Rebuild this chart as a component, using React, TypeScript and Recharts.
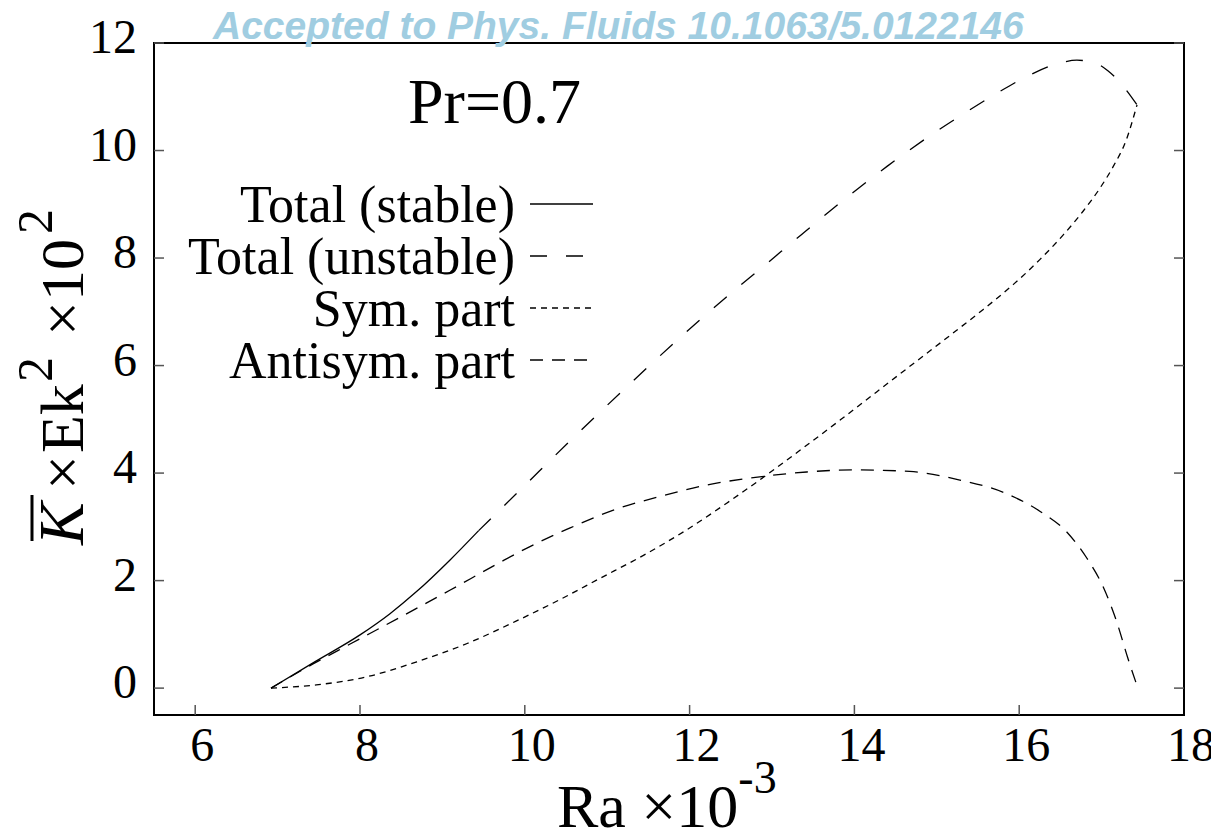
import React from 'react';
import { LineChart, Line, XAxis, YAxis } from 'recharts';

const W = 1211;
const H = 823;
const SERIF = '"Liberation Serif", "Times New Roman", Times, serif';
const SANS = '"Liberation Sans", Arial, Helvetica, sans-serif';

// Ra x 10^-3 and mean kinetic energy (x Ek^2 x 10^2) along each branch, Pr = 0.7
const stableRa = [6.92, 7.43, 8.0, 8.36, 8.69, 9.09, 9.44];
const stableK = [0, 0.47, 0.99, 1.38, 1.8, 2.38, 2.93];

const unstableRa = [9.44, 9.94, 10.55, 11.2, 11.84, 12.52, 12.86, 13.36, 13.7, 14.05, 14.4, 14.67, 14.94, 15.3, 15.69, 16.07, 16.5, 16.7, 16.92, 17.08, 17.26, 17.43];
const unstableK = [2.93, 3.68, 4.6, 5.55, 6.46, 7.37, 7.8, 8.44, 8.87, 9.3, 9.71, 10.01, 10.3, 10.66, 11.03, 11.36, 11.63, 11.68, 11.63, 11.48, 11.2, 10.85];

const symRa = [6.92, 7.47, 8.08, 8.69, 9.3, 9.9, 10.43, 10.91, 11.44, 11.96, 12.45, 12.93, 13.38, 13.83, 14.27, 14.71, 15.16, 15.56, 15.93, 16.25, 16.54, 16.78, 16.98, 17.14, 17.3, 17.43];
const symK = [0, 0.06, 0.21, 0.49, 0.83, 1.25, 1.65, 2.04, 2.47, 2.94, 3.44, 3.96, 4.47, 4.99, 5.51, 6.03, 6.56, 7.04, 7.51, 7.97, 8.44, 8.88, 9.3, 9.7, 10.2, 10.85];

const antiRa = [6.92, 7.43, 7.88, 8.49, 9.09, 9.7, 10.02, 10.55, 11.11, 11.68, 12.25, 12.85, 13.42, 13.99, 14.67, 15.28, 15.81, 16.25, 16.58, 16.82, 17.02, 17.18, 17.32, 17.44];
const antiK = [0, 0.45, 0.82, 1.32, 1.82, 2.34, 2.6, 2.98, 3.33, 3.58, 3.79, 3.93, 4.02, 4.06, 4.03, 3.87, 3.64, 3.29, 2.9, 2.42, 1.88, 1.25, 0.55, 0];

const seriesNames = ['Total (stable)', 'Total (unstable)', 'Sym. part', 'Antisym. part'];
const seriesDash = ['', '17 19', '6 5', '13 9'];

const xTicks = [6, 8, 10, 12, 14, 16, 18];
const yTicks = [0, 2, 4, 6, 8, 10, 12];
const xDomain: [number, number] = [5.5, 18];
const yDomain: [number, number] = [-0.5, 12];

const toPoints = (ra: number[], k: number[]) => ra.map((r, i) => ({ ra: r, k: k[i] }));

const seriesData = [
  toPoints(stableRa, stableK),
  toPoints(unstableRa, unstableK),
  toPoints(symRa, symK),
  toPoints(antiRa, antiK),
];

const LeftTick = (p: any) => (
  <text x={p.x} y={p.y + 10} textAnchor="end" fontSize={48} fontFamily={SERIF} fill="#000">
    {p.payload.value}
  </text>
);

const BottomTick = (p: any) => (
  <text x={p.x + 7} y={p.y + 46} textAnchor="middle" fontSize={48} fontFamily={SERIF} fill="#000">
    {p.payload.value}
  </text>
);

const NoTick = () => <g />;

const tickLineStyle = { stroke: '#555', strokeWidth: 1.5 };
const axisLineStyle = { stroke: '#000', strokeWidth: 2, strokeLinecap: 'square' as const };

export default function App() {
  const legendRows = [196, 248, 300, 352];
  return (
    <div style={{ position: 'relative', width: W, height: H }}>
      <LineChart width={W} height={H} margin={{ top: 15, right: 15, bottom: 56, left: 86 }}>
        <XAxis
          xAxisId="b"
          type="number"
          dataKey="ra"
          domain={xDomain}
          ticks={xTicks}
          allowDataOverflow
          height={60}
          tickSize={-10}
          tickMargin={10}
          tick={BottomTick}
          tickLine={tickLineStyle}
          axisLine={axisLineStyle}
        />
        <XAxis
          xAxisId="t"
          orientation="top"
          type="number"
          domain={xDomain}
          ticks={xTicks}
          allowDataOverflow
          height={20}
          tickSize={-10}
          tick={NoTick}
          tickLine={tickLineStyle}
          axisLine={axisLineStyle}
        />
        <YAxis
          yAxisId="l"
          type="number"
          domain={yDomain}
          ticks={yTicks}
          allowDataOverflow
          width={60}
          tickSize={-10}
          tickMargin={27}
          tick={LeftTick}
          tickLine={tickLineStyle}
          axisLine={axisLineStyle}
        />
        <YAxis
          yAxisId="r"
          orientation="right"
          type="number"
          domain={yDomain}
          ticks={yTicks}
          allowDataOverflow
          width={20}
          tickSize={-10}
          tick={NoTick}
          tickLine={tickLineStyle}
          axisLine={axisLineStyle}
        />
        {seriesData.map((d, i) => (
          <Line
            key={seriesNames[i]}
            name={seriesNames[i]}
            data={d}
            dataKey="k"
            xAxisId="b"
            yAxisId="l"
            type="monotone"
            stroke="#000"
            strokeWidth={1.3}
            strokeDasharray={seriesDash[i] || undefined}
            dot={false}
            activeDot={false}
            isAnimationActive={false}
          />
        ))}
      </LineChart>
      <svg
        width={W}
        height={H}
        style={{ position: 'absolute', left: 0, top: 0, pointerEvents: 'none', overflow: 'visible' }}
      >
        <text x={400} y={115} fontSize={64} fontFamily={SERIF} fill="#000">
          Pr=0.7
        </text>
        {seriesNames.map((name, i) => (
          <g key={name}>
            <text x={507} y={legendRows[i] + 18} textAnchor="end" fontSize={52} fontFamily={SERIF} fill="#000">
              {name}
            </text>
            <line
              x1={522}
              x2={585}
              y1={legendRows[i]}
              y2={legendRows[i]}
              stroke="#000"
              strokeWidth={1.3}
              strokeDasharray={seriesDash[i] || undefined}
            />
          </g>
        ))}
        <text x={549} y={819} fontSize={62} fontFamily={SERIF} fill="#000">
          Ra ×10
          <tspan dy={-34} fontSize={46}>-3</tspan>
        </text>
        <g transform="translate(75,537) rotate(-90)" fontFamily={SERIF} fill="#000">
          <text x={0} y={0} fontSize={64} fontStyle="italic">K</text>
          <line x1={4} x2={50} y1={-51} y2={-51} stroke="#000" strokeWidth={3} />
          <text x={55} y={0} fontSize={62}>×</text>
          <text x={92} y={0} fontSize={62}>Ek</text>
          <text x={163} y={-31} fontSize={50}>2</text>
          <text x={209} y={0} fontSize={62}>×</text>
          <text x={244} y={0} fontSize={62}>10</text>
          <text x={311} y={-31} fontSize={50}>2</text>
        </g>
        <text
          x={205}
          y={31}
          fontSize={39}
          fontFamily={SANS}
          fontWeight="bold"
          fontStyle="italic"
          fill="#a0cde1"
        >
          Accepted to Phys. Fluids 10.1063/5.0122146
        </text>
      </svg>
    </div>
  );
}
